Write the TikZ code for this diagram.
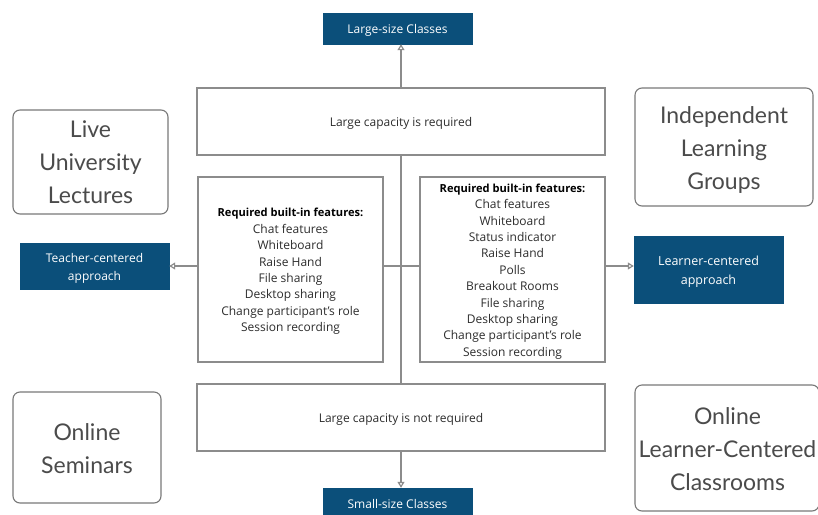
\documentclass[tikz,border=0pt]{standalone}
\usepackage{fontspec}
\setmainfont{Open Sans}
\newfontfamily\bigfont{Lato}
\usetikzlibrary{arrows.meta}
\definecolor{navy}{RGB}{11,79,122}
\definecolor{linegray}{RGB}{140,140,140}
\definecolor{boxgray}{RGB}{120,120,120}
\definecolor{txt}{RGB}{45,45,45}
\definecolor{bigtxt}{RGB}{75,75,75}
\newcommand{\headline}{{\color{black}\fontsize{11.1}{16.4}\selectfont\textbf{Required built-in features:}}}
\tikzset{
  bluebox/.style={fill=navy, draw=navy, inner sep=0pt},
  bluetxt/.style={text=white, inner sep=0pt, align=center, yshift=-2pt,
    font=\fontsize{12}{18}\selectfont},
  plainbox/.style={draw=linegray, line width=1.2pt, inner sep=0pt},
  plaintxt/.style={inner sep=0pt, align=center, text=txt, yshift=-2pt,
    font=\fontsize{12}{16.4}\selectfont},
  roundbox/.style={draw=boxgray, line width=1.1pt, rounded corners=7pt, inner sep=0pt},
  bigtxt/.style={inner sep=0pt, align=center, text=bigtxt, yshift=-1.5pt,
    font=\bigfont\fontsize{23}{33}\selectfont},
  conn/.style={draw=linegray, line width=1.2pt},
  arr/.style={conn, -{Triangle[open, length=6pt, width=7pt]}}
}
\begin{document}
\begin{tikzpicture}[x=1pt,y=-1pt]
\useasboundingbox[fill=white] (0,0) rectangle (818,514);
\begin{scope}
\clip (0,0) rectangle (818,514);
% blue boxes
\node[bluebox, minimum width=149pt, minimum height=31pt] (large) at (397.5,28.5) {};
\node[bluetxt] (largetxt) at (large.center) {Large-size Classes};
\node[bluebox, minimum width=149pt, minimum height=33pt] (small) at (397.5,504.5) {};
\node[bluetxt, yshift=2pt] (smalltxt) at (397.5,504) {Small-size Classes};
\node[bluebox, minimum width=149pt, minimum height=46pt] (teacher) at (94.5,266) {};
\node[bluetxt] (teachertxt) at (teacher.center) {Teacher-centered\\approach};
\node[bluebox, minimum width=149pt, minimum height=67pt] (learner) at (708.5,269.5) {};
\node[bluetxt, font=\fontsize{12.5}{19}\selectfont] (learnertxt) at (learner.center) {Learner-centered\\approach};
% plain boxes
\node[plainbox, minimum width=408pt, minimum height=67pt] (req) at (401,121.5) {};
\node[plaintxt] (reqtxt) at (req.center) {Large capacity is required};
\node[plainbox, minimum width=408pt, minimum height=67pt] (notreq) at (401,417.5) {};
\node[plaintxt] (notreqtxt) at (notreq.center) {Large capacity is not required};
\node[plainbox, minimum width=185pt, minimum height=185pt] (left) at (290.5,269.5) {};
\node[plaintxt] (lefttxt) at (left.center) {\headline\\Chat features\\Whiteboard\\Raise Hand\\File sharing\\Desktop sharing\\Change participant’s role\\Session recording};
\node[plainbox, minimum width=185pt, minimum height=185pt] (right) at (512.5,269.5) {};
\node[plaintxt] (righttxt) at (right.center) {\headline\\Chat features\\Whiteboard\\Status indicator\\Raise Hand\\Polls\\Breakout Rooms\\File sharing\\Desktop sharing\\Change participant’s role\\Session recording};
% rounded boxes
\node[roundbox, minimum width=155pt, minimum height=104pt] (live) at (90.5,162) {};
\node[bigtxt, yshift=1pt] (livetxt) at (live.center) {Live\\University\\Lectures};
\node[roundbox, minimum width=178pt, minimum height=118pt] (indep) at (724,147) {};
\node[bigtxt, yshift=-1pt] (indeptxt) at (indep.center) {Independent\\Learning\\Groups};
\node[roundbox, minimum width=148pt, minimum height=111pt] (sem) at (87,447.5) {};
\node[bigtxt, yshift=0.5pt] (semtxt) at (sem.center) {Online\\Seminars};
\node[roundbox, minimum width=184pt, minimum height=126pt] (olcc) at (727,448) {};
\node[bigtxt, xshift=0.5pt, yshift=0.5pt] (olcctxt) at (olcc.center) {Online\\Learner-Centered\\Classrooms};
% connectors
\draw[conn] (req.south) -- (notreq.north);
\draw[conn] (left.east |- teacher.east) -- (right.west |- teacher.east);
\draw[arr] (req.north) -- (req.north |- large.south);
\draw[arr] (notreq.south) -- (notreq.south |- small.north);
\draw[arr] (left.west |- teacher.east) -- (teacher.east);
\draw[arr] (right.east |- teacher.east) -- (learner.west |- teacher.east);
\end{scope}
\end{tikzpicture}
\end{document}
